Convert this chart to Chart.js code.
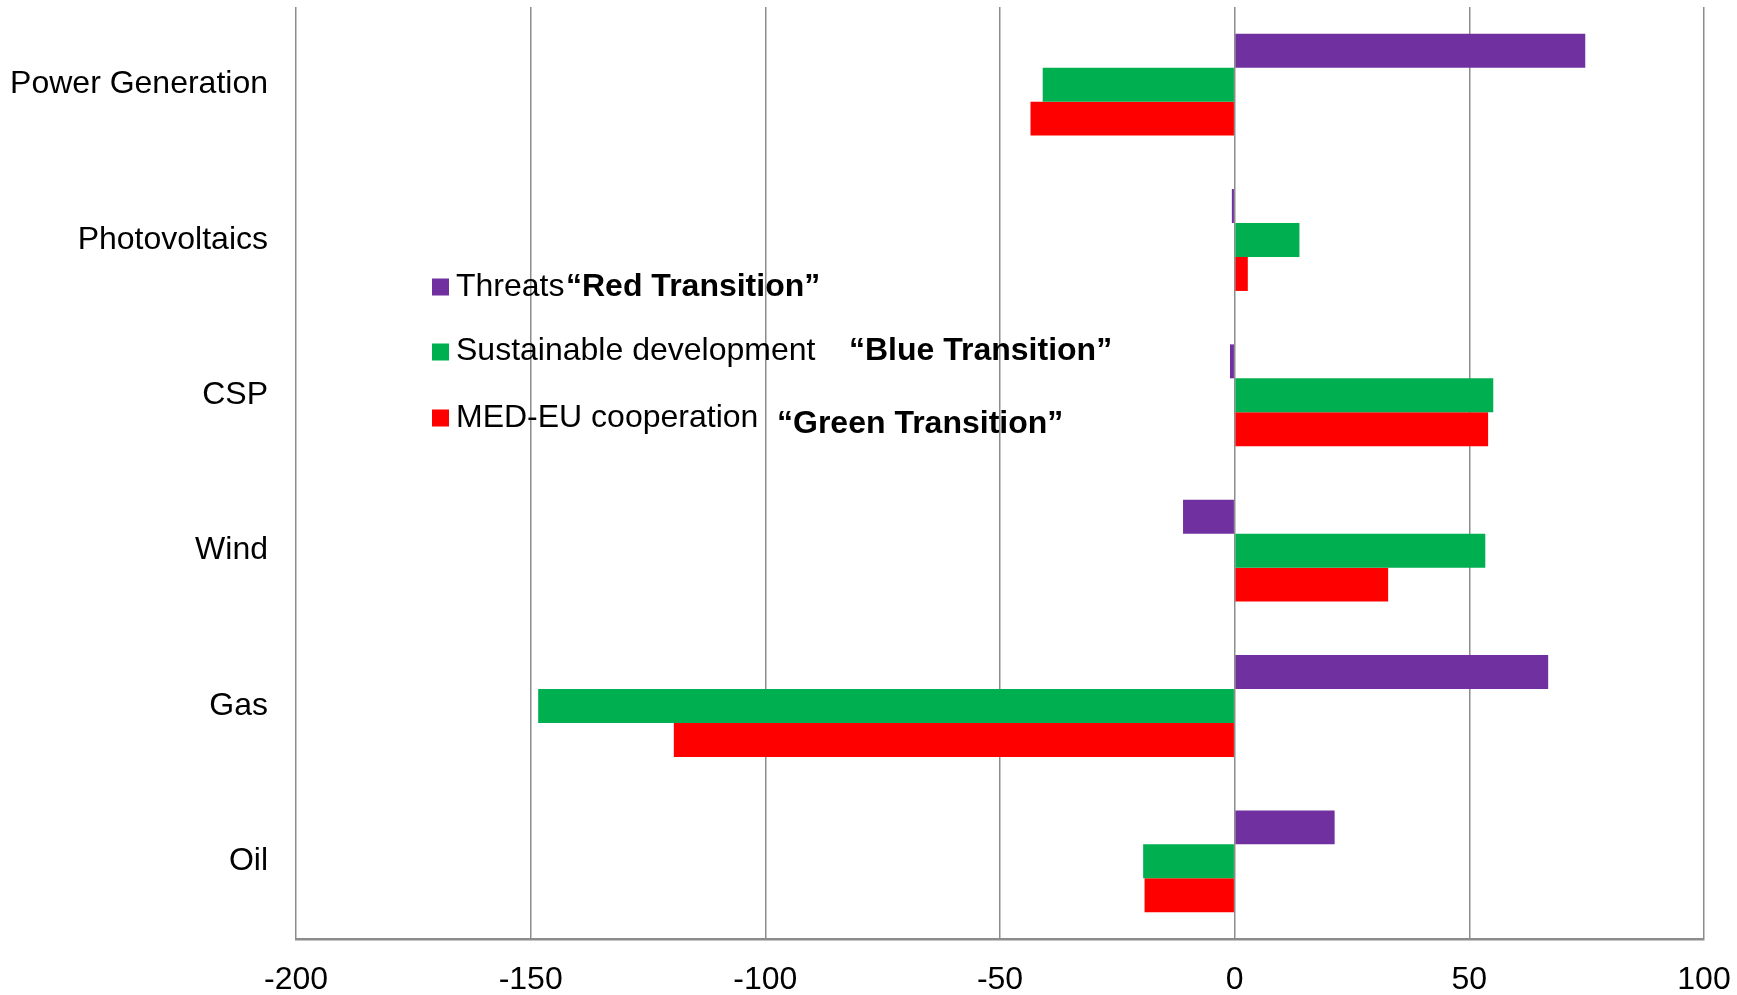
<!DOCTYPE html>
<html>
<head>
<meta charset="utf-8">
<title>Energy scenarios</title>
<script src="https://cdn.jsdelivr.net/npm/chart.js@4/dist/chart.umd.min.js"></script>
<style>
  html, body { margin: 0; padding: 0; background: #ffffff; }
  #chart { display: block; }
</style>
</head>
<body>
<canvas id="chart" width="1737" height="995"></canvas>
<script>
// Categories, top to bottom
const categories = ['Power Generation', 'Photovoltaics', 'CSP', 'Wind', 'Gas', 'Oil'];

// Scenario values per category
const threatsValues     = [74.7, -0.6, -1.0, -11.0, 66.8, 21.3];
const sustainableValues = [-40.9, 13.8, 55.1, 53.4, -148.4, -19.5];
const medEuValues       = [-43.5, 2.8, 54.0, 32.7, -119.5, -19.2];

// Legend wording: series names and the scenario tags printed beside them
const seriesNames     = ['Threats', 'Sustainable development', 'MED-EU cooperation'];
const transitionNames = ['\u201cRed Transition\u201d', '\u201cBlue Transition\u201d', '\u201cGreen Transition\u201d'];

// X axis range and tick step
const xMin = -200;
const xMax = 100;
const xStep = 50;

const seriesColors = ['#7030A0', '#00B050', '#FF0000'];
const FONT = '"Liberation Sans", Arial, Helvetica, sans-serif';

Chart.defaults.font.family = FONT;
Chart.defaults.color = '#000000';

// Legend drawn inside the plot, over the grid lines
const insideLegend = {
  id: 'insideLegend',
  afterDraw(chart) {
    const ctx = chart.ctx;
    const rows = [
      { markerY: 287, textY: 287, textX: 456, tagX: 566, tagY: 287 },
      { markerY: 352, textY: 351, textX: 456, tagX: 849, tagY: 351 },
      { markerY: 418, textY: 418, textX: 456, tagX: 777, tagY: 424 }
    ];
    ctx.save();
    ctx.textBaseline = 'middle';
    ctx.textAlign = 'left';
    rows.forEach((r, i) => {
      ctx.fillStyle = chart.data.datasets[i].backgroundColor;
      ctx.fillRect(432, r.markerY - 8.5, 17, 17);
      ctx.fillStyle = '#000000';
      ctx.font = '32px ' + FONT;
      ctx.fillText(seriesNames[i], r.textX, r.textY);
      ctx.font = 'bold 32px ' + FONT;
      ctx.fillText(transitionNames[i], r.tagX, r.tagY);
    });
    ctx.restore();
  }
};

// Fixed axis sizes, without the extra room reserved for overhanging labels
function fixBox(scale, prop, size) {
  scale[prop] = size;
  scale.paddingTop = 0;
  scale.paddingBottom = 0;
  scale.paddingLeft = 0;
  scale.paddingRight = 0;
}

new Chart(document.getElementById('chart'), {
  type: 'bar',
  data: {
    labels: categories,
    datasets: [
      { label: seriesNames[0] + ' ' + transitionNames[0], data: threatsValues, backgroundColor: seriesColors[0] },
      { label: seriesNames[1] + ' ' + transitionNames[1], data: sustainableValues, backgroundColor: seriesColors[1] },
      { label: seriesNames[2] + ' ' + transitionNames[2], data: medEuValues, backgroundColor: seriesColors[2] }
    ]
  },
  options: {
    indexAxis: 'y',
    responsive: false,
    animation: false,
    devicePixelRatio: 1,
    layout: { padding: { top: 7, right: 33, bottom: 0, left: 0 } },
    datasets: {
      bar: { categoryPercentage: 0.656, barPercentage: 1.0, borderWidth: 0 }
    },
    plugins: {
      legend: { display: false },
      tooltip: { enabled: false }
    },
    scales: {
      x: {
        type: 'linear',
        min: xMin,
        max: xMax,
        ticks: {
          stepSize: xStep,
          padding: 22,
          font: { size: 32 },
          color: '#000000'
        },
        grid: {
          color: '#8c8c8c',
          lineWidth: 1.5,
          drawTicks: false
        },
        border: { display: true, color: '#8c8c8c', width: 2.5 },
        afterFit(scale) { fixBox(scale, 'height', 56); }
      },
      y: {
        type: 'category',
        ticks: {
          padding: 28,
          font: { size: 32 },
          color: '#000000'
        },
        grid: { display: false, drawTicks: false },
        border: { display: false },
        afterFit(scale) { fixBox(scale, 'width', 296); }
      }
    }
  },
  plugins: [insideLegend]
});
</script>
</body>
</html>
